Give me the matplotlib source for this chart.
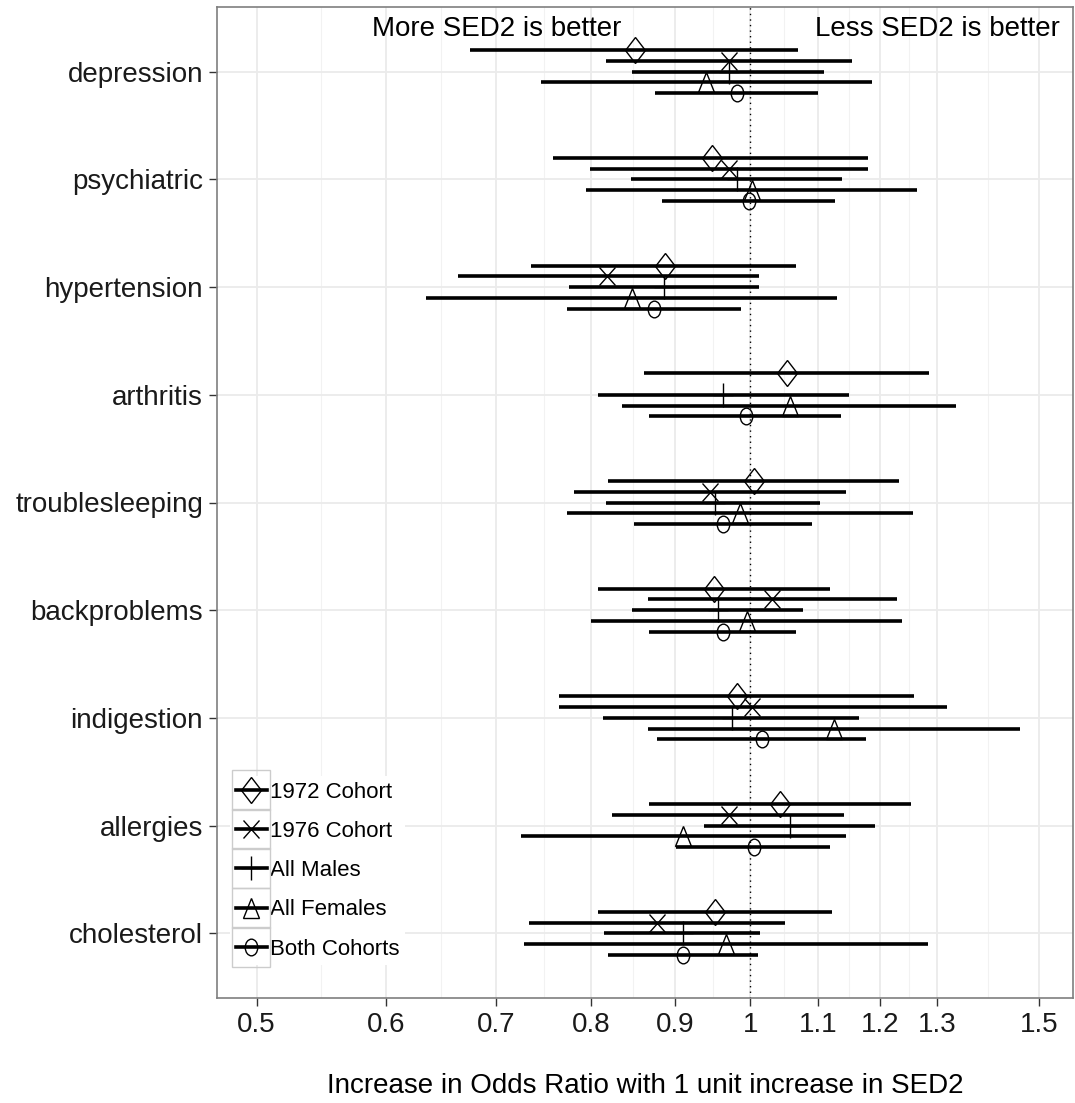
import numpy as np
import matplotlib
matplotlib.use("Agg")
import matplotlib.pyplot as plt
from matplotlib.lines import Line2D
from matplotlib.markers import MarkerStyle
from matplotlib.patches import Rectangle
from matplotlib.transforms import Affine2D

plt.rcParams['font.family'] = ['Liberation Sans', 'DejaVu Sans']

# outcomes, top to bottom
outcomes = ['depression', 'psychiatric', 'hypertension', 'arthritis',
            'troublesleeping', 'backproblems', 'indigestion', 'allergies',
            'cholesterol']

groups = ['1972 Cohort', '1976 Cohort', 'All Males', 'All Females', 'Both Cohorts']

# odds ratios and 95% intervals per group (nan = not estimated)
or_1972 = [0.850, 0.948, 0.887, 1.053, 1.005, 0.950, 0.982, 1.042, 0.952]
lo_1972 = [0.675, 0.758, 0.735, 0.861, 0.819, 0.807, 0.765, 0.868, 0.807]
hi_1972 = [1.069, 1.180, 1.066, 1.286, 1.232, 1.118, 1.259, 1.253, 1.121]

or_1976 = [0.970, 0.971, 0.818, np.nan, 0.945, 1.031, 1.003, 0.970, 0.877]
lo_1976 = [0.817, 0.798, 0.663, np.nan, 0.781, 0.866, 0.765, 0.823, 0.733]
hi_1976 = [1.153, 1.180, 1.012, np.nan, 1.144, 1.229, 1.318, 1.141, 1.050]

or_males = [0.970, 0.981, 0.886, 0.962, 0.951, 0.955, 0.975, 1.058, 0.910]
lo_males = [0.847, 0.846, 0.775, 0.807, 0.817, 0.847, 0.813, 0.937, 0.814]
hi_males = [1.109, 1.138, 1.012, 1.149, 1.103, 1.077, 1.165, 1.191, 1.013]

or_females = [0.940, 1.003, 0.847, 1.057, 0.986, 0.995, 1.124, 0.910, 0.967]
lo_females = [0.745, 0.794, 0.634, 0.835, 0.773, 0.800, 0.866, 0.725, 0.728]
hi_females = [1.186, 1.264, 1.129, 1.334, 1.257, 1.237, 1.460, 1.144, 1.283]

or_both = [0.982, 0.998, 0.873, 0.994, 0.963, 0.962, 1.017, 1.005, 0.910]
lo_both = [0.875, 0.883, 0.773, 0.868, 0.849, 0.868, 0.877, 0.901, 0.819]
hi_both = [1.100, 1.127, 0.987, 1.135, 1.090, 1.066, 1.177, 1.118, 1.011]

x_breaks = [0.5, 0.6, 0.7, 0.8, 0.9, 1, 1.1, 1.2, 1.3, 1.5]
x_labels = ['0.5', '0.6', '0.7', '0.8', '0.9', '1', '1.1', '1.2', '1.3', '1.5']

series = [
    (or_1972, lo_1972, hi_1972),
    (or_1976, lo_1976, hi_1976),
    (or_males, lo_males, hi_males),
    (or_females, lo_females, hi_females),
    (or_both, lo_both, hi_both),
]

# open shapes, slightly narrow
squeeze = Affine2D().scale(0.85, 1.0)
shapes = [
    MarkerStyle('D', transform=Affine2D().scale(0.8, 1.0)),
    MarkerStyle('x', transform=squeeze),
    MarkerStyle('+', transform=squeeze),
    MarkerStyle('^', transform=squeeze),
    MarkerStyle('o', transform=Affine2D().scale(0.75, 1.0)),
]
sizes = [13, 13, 17, 14, 12]
dodge = [0.2, 0.1, 0.0, -0.1, -0.2]

fig = plt.figure(figsize=(10.75, 11.03), dpi=100)
ax = fig.add_axes([217 / 1075, 105 / 1103, 856 / 1075, 991 / 1103])

ypos = np.arange(len(outcomes))[::-1] + 1.0

for (est, lo, hi), m, ms, d in zip(series, shapes, sizes, dodge):
    est = np.array(est); lo = np.array(lo); hi = np.array(hi)
    y = ypos + d
    ax.hlines(y, lo, hi, color='black', lw=2.6, zorder=3)
    ax.plot(est, y, linestyle='none', marker=m, markersize=ms,
            mfc='none', mec='black', mew=1.0, zorder=4)

ax.axvline(1, color='black', lw=1.0, linestyle=(0, (1, 3)), zorder=2)

ax.set_xscale('log')
ax.set_xlim(0.473, 1.573)
ax.set_ylim(0.4, 9.6)
ax.set_xticks(x_breaks)
ax.set_xticklabels(x_labels)
minor = [np.sqrt(a * b) for a, b in zip(x_breaks[:-1], x_breaks[1:])]
ax.set_xticks(minor, minor=True)
ax.set_xticklabels([], minor=True)
ax.set_yticks(ypos)
ax.set_yticklabels(outcomes)

ax.grid(True, which='major', color='#EBEBEB', lw=1.3, zorder=0)
ax.grid(True, which='minor', axis='x', color='#F2F2F2', lw=0.8, zorder=0)
ax.set_axisbelow(True)
ax.tick_params(axis='both', which='major', length=6, width=1.0,
               color='#333333', labelsize=20, labelcolor='#1A1A1A', pad=4)
ax.tick_params(axis='x', which='minor', length=0)
for s in ax.spines.values():
    s.set_color('#7F7F7F')
    s.set_linewidth(1.2)

ax.set_xlabel('Increase in Odds Ratio with 1 unit increase in SED2',
              fontsize=20, labelpad=25)

ax.text(0.7, 9.4, 'More SED2 is better', ha='center', va='center', fontsize=20)
ax.text(1.3, 9.4, 'Less SED2 is better', ha='center', va='center', fontsize=20)

handles = [Line2D([], [], color='black', lw=2.6, marker=m, markersize=ms,
                  mfc='none', mec='black', mew=1.0)
           for m, ms in zip(shapes, sizes)]
leg = ax.legend(handles, groups, loc='lower left',
                bbox_to_anchor=(0.0025, 0.022), fontsize=16,
                handlelength=1.4, handletextpad=0.15, labelspacing=0.82,
                borderpad=0.25, frameon=True, fancybox=False,
                framealpha=1.0, edgecolor='none', facecolor='white')
leg.set_zorder(5)

# grey box around each legend key
fig.canvas.draw()
inv = fig.transFigure.inverted()
for h in leg.legend_handles:
    bb = h.get_window_extent(fig.canvas.get_renderer())
    cx = (bb.x0 + bb.x1) / 2
    cy = (bb.y0 + bb.y1) / 2
    (x0, y0) = inv.transform((cx - 19, cy - 20))
    (x1, y1) = inv.transform((cx + 19, cy + 20))
    fig.add_artist(Rectangle((x0, y0), x1 - x0, y1 - y0, fill=False,
                             edgecolor='#CCCCCC', lw=1.0,
                             transform=fig.transFigure, zorder=6))

fig.savefig('out.png', dpi=100)
